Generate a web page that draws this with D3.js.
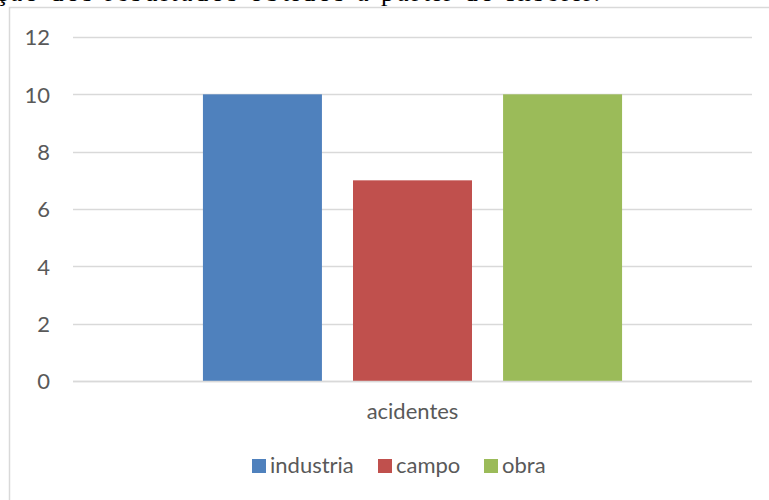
<!DOCTYPE html>
<html>
<head>
<meta charset="utf-8">
<script src="https://cdn.jsdelivr.net/npm/d3@7"></script>
<style>
  html, body { margin: 0; padding: 0; background: #fff; }
  svg { display: block; }
</style>
</head>
<body>
<svg id="chart" width="769" height="500"></svg>
<script>
// Accident counts by sector
const categories = ["acidentes"];
const seriesNames = ["industria", "campo", "obra"];
const seriesValues = [10, 7, 10];
const seriesColors = ["#4F81BD", "#C0504D", "#9BBB59"];
const yTicks = [0, 2, 4, 6, 8, 10, 12];

const svg = d3.select("#chart");
const W = 769, H = 500;
const font = "Lato, 'Open Sans', sans-serif";
const textColor = "#595959";

// Surrounding document line, mostly hidden above the chart frame
svg.append("text")
  .attr("x", -4).attr("y", 0.5)
  .attr("font-family", "'Liberation Serif', 'Times New Roman', serif")
  .attr("font-size", 26)
  .attr("textLength", 604).attr("lengthAdjust", "spacing")
  .attr("fill", "#000")
  .text("ção dos resultados obtidos a partir do Inserir.");

// Chart frame
svg.append("rect")
  .attr("x", 9.5).attr("y", 7.5)
  .attr("width", W + 20).attr("height", H + 20)
  .attr("fill", "#fff")
  .attr("stroke", "#D9D9D9").attr("stroke-width", 1.5);

const plot = { left: 73, right: 752, top: 37, bottom: 381 };

const y = d3.scaleLinear().domain([0, 12]).range([plot.bottom, plot.top]);
const x0 = d3.scaleBand().domain(categories).range([plot.left, plot.right]).paddingInner(0).paddingOuter(0.31);
const x1 = d3.scaleBand().domain(seriesNames).range([0, x0.bandwidth()]).paddingInner(0.207).paddingOuter(0);

// Horizontal gridlines
svg.append("g")
  .selectAll("line")
  .data(yTicks)
  .join("line")
  .attr("x1", plot.left).attr("x2", plot.right)
  .attr("y1", d => Math.round(y(d)) + 0.5).attr("y2", d => Math.round(y(d)) + 0.5)
  .attr("stroke", "#D9D9D9").attr("stroke-width", 1.5);

// Y axis labels
const yAxis = d3.axisLeft(y).tickValues(yTicks).tickSize(0).tickPadding(0);
const yg = svg.append("g").attr("transform", `translate(50,0)`).call(yAxis);
yg.select(".domain").remove();
yg.selectAll("text")
  .attr("font-family", font).attr("font-size", 22).attr("fill", textColor)
  .attr("dy", "0.36em");

// Bars
const groups = svg.append("g")
  .selectAll("g")
  .data(categories)
  .join("g")
  .attr("transform", d => `translate(${x0(d)},0)`);

groups.selectAll("rect")
  .data(seriesNames.map((s, i) => ({ s, v: seriesValues[i], c: seriesColors[i] })))
  .join("rect")
  .attr("x", d => x1(d.s))
  .attr("width", x1.bandwidth())
  .attr("y", d => y(d.v))
  .attr("height", d => y(0) - y(d.v))
  .attr("fill", d => d.c);

// Baseline axis
svg.append("line")
  .attr("x1", plot.left).attr("x2", plot.right)
  .attr("y1", y(0) + 0.5).attr("y2", y(0) + 0.5)
  .attr("stroke", "#D9D9D9").attr("stroke-width", 1.5);

// Category label
const xAxis = d3.axisBottom(x0).tickSize(0).tickPadding(0);
const xg = svg.append("g").attr("transform", `translate(0,419)`).call(xAxis);
xg.select(".domain").remove();
xg.selectAll("text")
  .attr("font-family", font).attr("font-size", 22).attr("fill", textColor)
  .attr("dy", 0);

// Legend
const legendItems = [
  { name: seriesNames[0], color: seriesColors[0], x: 252 },
  { name: seriesNames[1], color: seriesColors[1], x: 378 },
  { name: seriesNames[2], color: seriesColors[2], x: 484 }
];
const lg = svg.append("g");
legendItems.forEach(it => {
  lg.append("rect")
    .attr("x", it.x).attr("y", 459)
    .attr("width", 14).attr("height", 14)
    .attr("fill", it.color);
  lg.append("text")
    .attr("x", it.x + 18).attr("y", 473)
    .attr("font-family", font).attr("font-size", 22).attr("fill", textColor)
    .text(it.name);
});
</script>
</body>
</html>
